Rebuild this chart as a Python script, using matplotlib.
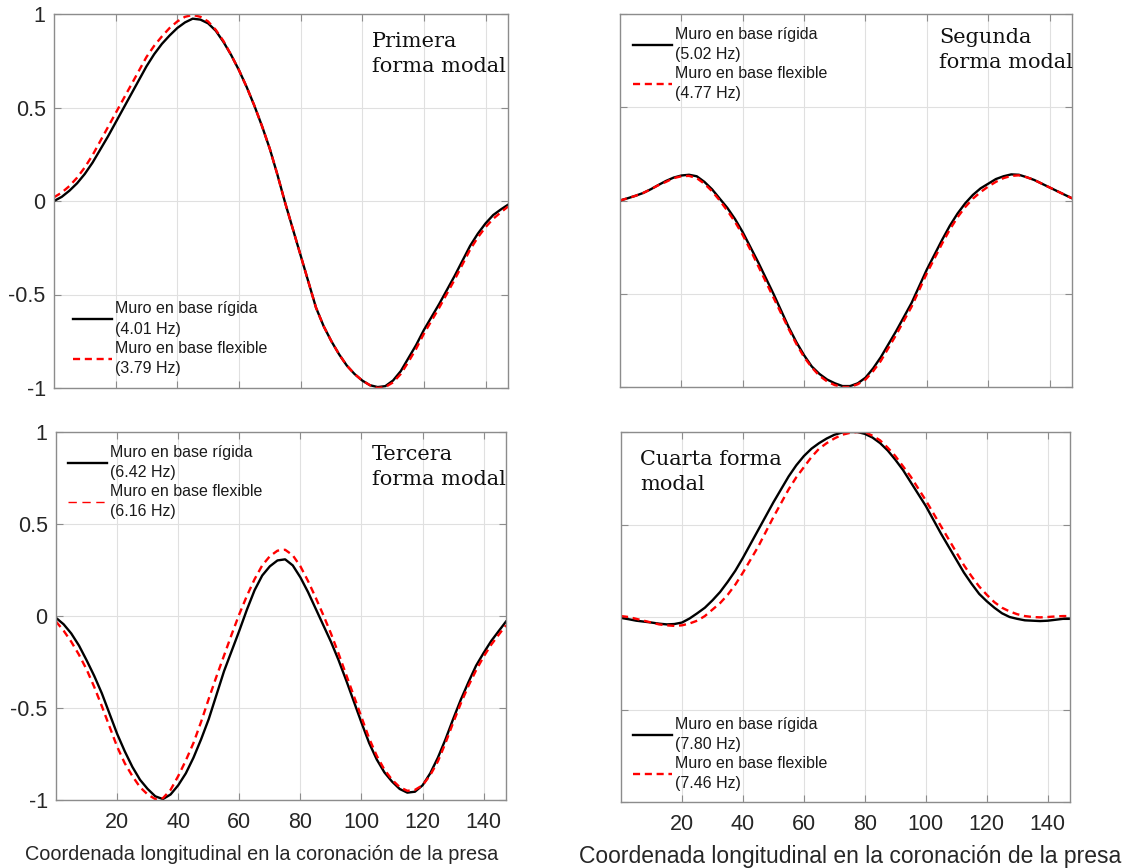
import matplotlib
matplotlib.use("Agg")
import matplotlib.pyplot as plt
from matplotlib.lines import Line2D

plt.rcParams["font.family"] = ["Liberation Sans", "DejaVu Sans"]

# Longitudinal coordinate along the dam crest
x_coord = [0, 2.5, 5, 7.5, 10, 12.5, 15, 17.5, 20, 22.5,
           25, 27.5, 30, 32.5, 35, 37.5, 40, 42.5, 45, 47.5,
           50, 52.5, 55, 57.5, 60, 62.5, 65, 67.5, 70, 72.5,
           75, 77.5, 80, 82.5, 85, 87.5, 90, 92.5, 95, 97.5,
           100, 102.5, 105, 107.5, 110, 112.5, 115, 117.5, 120, 122.5,
           125, 127.5, 130, 132.5, 135, 137.5, 140, 142.5, 145, 147.3]

# Mode 1
mode1_rigid = [0.00, 0.022, 0.055, 0.095, 0.145, 0.205, 0.275, 0.345, 0.42, 0.495,
               0.57, 0.645, 0.72, 0.785, 0.84, 0.885, 0.925, 0.955, 0.975, 0.97,
               0.95, 0.91, 0.85, 0.78, 0.70, 0.61, 0.51, 0.40, 0.28, 0.14,
               -0.01, -0.15, -0.29, -0.43, -0.57, -0.67, -0.75, -0.82, -0.88, -0.925,
               -0.96, -0.985, -0.995, -0.99, -0.96, -0.91, -0.84, -0.77, -0.69, -0.62,
               -0.55, -0.475, -0.40, -0.32, -0.24, -0.175, -0.12, -0.075, -0.045, -0.02]
mode1_flex = [0.02, 0.045, 0.08, 0.125, 0.18, 0.245, 0.32, 0.395, 0.47, 0.545,
              0.62, 0.695, 0.77, 0.83, 0.88, 0.925, 0.96, 0.985, 0.995, 0.985,
              0.96, 0.915, 0.855, 0.78, 0.70, 0.61, 0.51, 0.40, 0.28, 0.14,
              -0.01, -0.15, -0.29, -0.43, -0.57, -0.67, -0.75, -0.82, -0.88, -0.925,
              -0.96, -0.985, -1.0, -0.995, -0.97, -0.925, -0.86, -0.79, -0.71, -0.64,
              -0.57, -0.495, -0.42, -0.34, -0.26, -0.195, -0.14, -0.095, -0.06, -0.03]

# Mode 2
mode2_rigid = [0.0, 0.012, 0.025, 0.04, 0.06, 0.083, 0.105, 0.123, 0.134, 0.138,
               0.13, 0.10, 0.06, 0.01, -0.04, -0.10, -0.17, -0.25, -0.33, -0.415,
               -0.50, -0.59, -0.68, -0.76, -0.83, -0.89, -0.93, -0.96, -0.98, -0.995,
               -0.995, -0.98, -0.95, -0.90, -0.84, -0.77, -0.70, -0.625, -0.55, -0.46,
               -0.37, -0.29, -0.21, -0.135, -0.07, -0.015, 0.03, 0.065, 0.09, 0.115,
               0.13, 0.14, 0.138, 0.125, 0.11, 0.09, 0.07, 0.05, 0.03, 0.012]
mode2_flex = [0.0, 0.012, 0.025, 0.04, 0.06, 0.082, 0.10, 0.12, 0.13, 0.132,
              0.12, 0.09, 0.05, 0.0, -0.055, -0.115, -0.185, -0.265, -0.35, -0.435,
              -0.52, -0.605, -0.69, -0.77, -0.84, -0.895, -0.94, -0.97, -0.99, -1.0,
              -1.0, -0.985, -0.96, -0.915, -0.86, -0.79, -0.72, -0.645, -0.57, -0.48,
              -0.39, -0.31, -0.23, -0.155, -0.09, -0.035, 0.01, 0.045, 0.075, 0.10,
              0.12, 0.132, 0.135, 0.125, 0.11, 0.09, 0.07, 0.05, 0.03, 0.012]

# Mode 3
mode3_rigid = [-0.01, -0.045, -0.095, -0.16, -0.24, -0.325, -0.42, -0.53, -0.64, -0.735,
               -0.82, -0.89, -0.94, -0.98, -0.995, -0.97, -0.92, -0.855, -0.77, -0.67,
               -0.56, -0.43, -0.30, -0.19, -0.08, 0.035, 0.14, 0.22, 0.27, 0.302,
               0.308, 0.275, 0.21, 0.13, 0.04, -0.05, -0.14, -0.24, -0.35, -0.465,
               -0.58, -0.69, -0.78, -0.85, -0.90, -0.94, -0.96, -0.955, -0.92, -0.855,
               -0.77, -0.67, -0.56, -0.455, -0.36, -0.27, -0.20, -0.135, -0.08, -0.03]
mode3_flex = [-0.03, -0.08, -0.14, -0.21, -0.29, -0.385, -0.49, -0.60, -0.71, -0.80,
              -0.87, -0.93, -0.97, -0.995, -0.99, -0.945, -0.87, -0.785, -0.69, -0.575,
              -0.45, -0.33, -0.215, -0.10, 0.01, 0.11, 0.20, 0.275, 0.325, 0.355,
              0.36, 0.33, 0.27, 0.19, 0.10, 0.005, -0.095, -0.205, -0.32, -0.435,
              -0.55, -0.665, -0.76, -0.835, -0.89, -0.93, -0.95, -0.945, -0.92, -0.865,
              -0.79, -0.69, -0.58, -0.475, -0.38, -0.295, -0.22, -0.155, -0.10, -0.05]

# Mode 4
mode4_rigid = [-0.005, -0.012, -0.02, -0.025, -0.03, -0.036, -0.04, -0.038, -0.03, -0.008,
               0.02, 0.05, 0.09, 0.135, 0.19, 0.25, 0.32, 0.395, 0.47, 0.545,
               0.62, 0.69, 0.76, 0.82, 0.87, 0.91, 0.94, 0.965, 0.985, 0.997,
               1.0, 1.0, 0.99, 0.97, 0.94, 0.90, 0.85, 0.795, 0.73, 0.665,
               0.60, 0.525, 0.45, 0.38, 0.31, 0.24, 0.18, 0.125, 0.085, 0.05,
               0.02, 0.0, -0.01, -0.018, -0.02, -0.022, -0.02, -0.015, -0.01, -0.01]
mode4_flex = [0.005, 0.0, -0.01, -0.02, -0.03, -0.04, -0.045, -0.048, -0.045, -0.035,
              -0.02, 0.005, 0.04, 0.075, 0.12, 0.175, 0.24, 0.31, 0.38, 0.46,
              0.54, 0.615, 0.69, 0.755, 0.81, 0.865, 0.91, 0.94, 0.965, 0.985,
              0.995, 1.0, 1.0, 0.98, 0.955, 0.915, 0.87, 0.815, 0.76, 0.695,
              0.63, 0.56, 0.49, 0.42, 0.35, 0.28, 0.22, 0.165, 0.12, 0.08,
              0.05, 0.03, 0.015, 0.005, 0.0, -0.002, 0.0, 0.003, 0.005, 0.005]

freq_rigid = ["4.01", "5.02", "6.42", "7.80"]
freq_flex = ["3.79", "4.77", "6.16", "7.46"]
titles = ["Primera\nforma modal", "Segunda\nforma modal",
          "Tercera\nforma modal", "Cuarta forma\nmodal"]
x_ticks = [20, 40, 60, 80, 100, 120, 140]
y_ticks = [-1, -0.5, 0, 0.5, 1]
y_tick_labels = ["-1", "-0.5", "0", "0.5", "1"]
xlabel_text = "Coordenada longitudinal en la coronación de la presa"

W, H = 1127, 868
fig = plt.figure(figsize=(W / 100, H / 100), dpi=100)


def px_axes(left, top, right, bottom):
    return fig.add_axes([left / W, 1 - bottom / H, (right - left) / W, (bottom - top) / H])


axes = [px_axes(54, 14, 508, 388), px_axes(620, 14, 1072, 387),
        px_axes(56, 432, 506, 800), px_axes(621, 432, 1070, 802)]

rigid = [mode1_rigid, mode2_rigid, mode3_rigid, mode4_rigid]
flex = [mode1_flex, mode2_flex, mode3_flex, mode4_flex]

spine_col = "#8c8c8c"
red_dash = (0, (3.0, 2.0))

# legend anchors (axes fraction, upper-left) and title anchors
leg_anchor = [(0.042, 0.232), (0.029, 0.966), (0.027, 0.966), (0.027, 0.231)]
title_pos = [(0.700, 0.952), (0.706, 0.963), (0.702, 0.965), (0.042, 0.951)]

for i, ax in enumerate(axes):
    ax.plot(x_coord, rigid[i], color="black", lw=1.7, solid_joinstyle="round")
    ax.plot(x_coord, flex[i], color="#ff0000", lw=1.7, linestyle=red_dash)
    ax.set_xlim(0, 147.3)
    ax.set_ylim(-1, 1)
    ax.set_xticks(x_ticks)
    ax.set_yticks(y_ticks)
    ax.grid(True, color="#e0e0e0", lw=0.8)
    ax.set_axisbelow(True)
    ax.tick_params(direction="in", length=5, width=0.8, color=spine_col,
                   top=True, right=True, labelsize=15.5, labelcolor="#262626")
    ax.tick_params(axis="y", pad=6)
    ax.tick_params(axis="x", pad=9)
    for s in ax.spines.values():
        s.set_color(spine_col)
        s.set_linewidth(1.0)
    if i in (0, 2):
        ax.set_yticklabels(y_tick_labels)
    else:
        ax.set_yticklabels([])
    if i in (0, 1):
        ax.set_xticklabels([])
    else:
        ax.set_xticklabels([str(t) for t in x_ticks])

    red_lw = 1.0 if i == 2 else 1.7
    red_ls = (0, (6, 4)) if i == 2 else red_dash
    handles = [Line2D([], [], color="black", lw=1.7),
               Line2D([], [], color="#ff0000", lw=red_lw, linestyle=red_ls)]
    labels = [f"Muro en base rígida\n({freq_rigid[i]} Hz)",
              f"Muro en base flexible\n({freq_flex[i]} Hz)"]
    leg = ax.legend(handles, labels, loc="upper left", bbox_to_anchor=leg_anchor[i],
                    frameon=False, fontsize=11.5, handlelength=2.45, handletextpad=0.2,
                    borderpad=0, borderaxespad=0, labelspacing=0.25)
    for t in leg.get_texts():
        t.set_linespacing(1.45)
        t.set_color("#1a1a1a")

    ax.text(title_pos[i][0], title_pos[i][1], titles[i], transform=ax.transAxes,
            ha="left", va="top", fontsize=15, family="DejaVu Serif", color="#111111",
            linespacing=1.4)

axes[2].set_xlabel(xlabel_text, fontsize=14.3, color="#262626")
axes[2].xaxis.set_label_coords(0.458, -0.121)
axes[3].set_xlabel(xlabel_text, fontsize=16.5, color="#262626")
axes[3].xaxis.set_label_coords(0.51, -0.117)

fig.savefig("out.png", dpi=100)
